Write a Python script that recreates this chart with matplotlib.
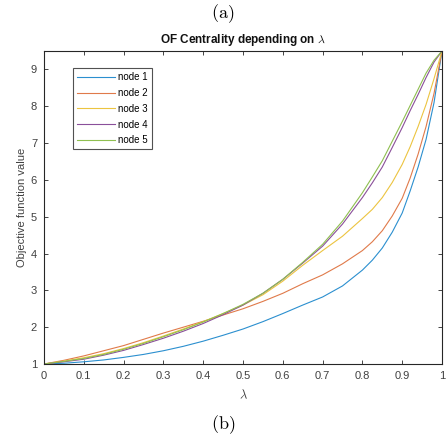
import matplotlib
matplotlib.use("Agg")
import matplotlib.pyplot as plt

lam = [0, 0.05, 0.1, 0.15, 0.2, 0.25, 0.3, 0.35, 0.4, 0.45, 0.5, 0.55, 0.6,
       0.65, 0.7, 0.75, 0.8, 0.825, 0.85, 0.875, 0.9, 0.92, 0.94, 0.96, 0.98, 1.0]

node1 = [1, 1.02, 1.06, 1.11, 1.18, 1.26, 1.36, 1.48, 1.62, 1.78, 1.95, 2.15,
         2.37, 2.6, 2.82, 3.12, 3.55, 3.82, 4.15, 4.58, 5.1, 5.7, 6.35, 7.1, 8.1, 9.5]
node2 = [1, 1.1, 1.22, 1.36, 1.5, 1.67, 1.84, 2.0, 2.16, 2.33, 2.5, 2.7,
         2.92, 3.18, 3.42, 3.72, 4.08, 4.32, 4.62, 5.02, 5.5, 6.05, 6.7, 7.45, 8.35, 9.5]
node3 = [1, 1.08, 1.17, 1.28, 1.42, 1.58, 1.76, 1.95, 2.15, 2.37, 2.6, 2.88,
         3.25, 3.68, 4.08, 4.47, 4.95, 5.2, 5.52, 5.93, 6.42, 6.9, 7.45, 8.05, 8.75, 9.5]
node4 = [1, 1.06, 1.13, 1.24, 1.37, 1.53, 1.7, 1.89, 2.1, 2.34, 2.6, 2.92,
         3.3, 3.74, 4.2, 4.8, 5.52, 5.92, 6.35, 6.88, 7.42, 7.88, 8.32, 8.78, 9.2, 9.5]
node5 = [1, 1.07, 1.15, 1.26, 1.4, 1.56, 1.74, 1.93, 2.14, 2.37, 2.62, 2.92,
         3.3, 3.76, 4.25, 4.88, 5.65, 6.08, 6.52, 7.05, 7.58, 8.02, 8.46, 8.9, 9.25, 9.5]

labels = ["node 1", "node 2", "node 3", "node 4", "node 5"]
colors = ["#2b8fcf", "#e07a4a", "#ecc440", "#8a4f9a", "#8fbf50"]
xticks = [0, 0.1, 0.2, 0.3, 0.4, 0.5, 0.6, 0.7, 0.8, 0.9, 1]
xticklabels = ["0", "0.1", "0.2", "0.3", "0.4", "0.5", "0.6", "0.7", "0.8", "0.9", "1"]
yticks = [1, 2, 3, 4, 5, 6, 7, 8, 9]

plt.rcParams['font.family'] = ['Liberation Sans', 'DejaVu Sans']
plt.rcParams['mathtext.fontset'] = 'cm'

fig = plt.figure(figsize=(4.46, 4.45), dpi=100)
ax = fig.add_axes([44/446, 1-364/445, 398/446, 313/445])

for series, lab, col in zip([node1, node2, node3, node4, node5], labels, colors):
    ax.plot(lam, series, color=col, lw=0.8, label=lab)

ax.set_xlim(0, 1)
ax.set_ylim(1, 9.5)
ax.set_xticks(xticks)
ax.set_xticklabels(xticklabels)
ax.set_yticks(yticks)
tc = '#404040'
ax.tick_params(direction='in', length=3, width=0.6, top=True, right=True,
               labelsize=8, colors='#262626', labelcolor=tc, pad=5)
for s in ax.spines.values():
    s.set_linewidth(0.8)
    s.set_color('#262626')

ax.set_xlabel(r'$\lambda$', fontsize=9, color=tc, labelpad=6)
ax.set_ylabel('Objective function value', fontsize=8, color=tc, labelpad=3)
ax.set_title(r'OF Centrality depending on $\lambda$', fontsize=8.5, fontweight='bold',
             color='#111111', pad=6)

leg = ax.legend(loc='upper left', bbox_to_anchor=(0.072, 0.945), fontsize=7,
                frameon=True, fancybox=False, edgecolor='#262626',
                handlelength=4.0, handletextpad=0.3, labelspacing=0.6,
                borderpad=0.4, borderaxespad=0)
leg.get_frame().set_linewidth(0.8)

fig.text(0.5, 1-14/445, r'$\mathrm{(a)}$', ha='center', va='center', fontsize=13)
fig.text(0.5, 1-425/445, r'$\mathrm{(b)}$', ha='center', va='center', fontsize=13)

fig.savefig('out.png', dpi=100)
